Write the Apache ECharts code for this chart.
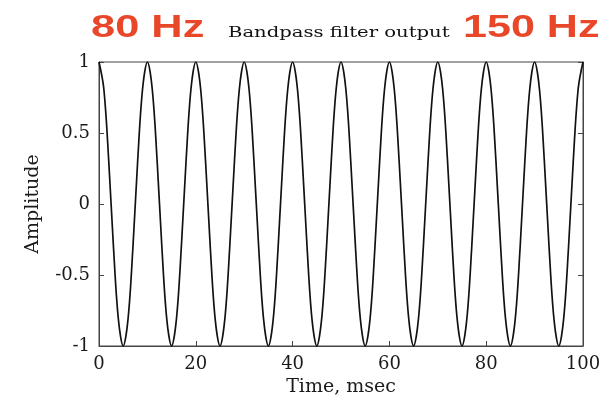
<!DOCTYPE html>
<html>
<head>
<meta charset="utf-8">
<script src="https://cdn.jsdelivr.net/npm/echarts@6/dist/echarts.min.js"></script>
<style>html,body{margin:0;padding:0;background:#fff;}#c{width:604px;height:403px;}</style>
</head>
<body>
<div id="c"></div>
<script>
// Time samples (msec)
var timeMs = [
  0,1,2,3,4,5,6,7,8,9,
  10,11,12,13,14,15,16,17,18,19,
  20,21,22,23,24,25,26,27,28,29,
  30,31,32,33,34,35,36,37,38,39,
  40,41,42,43,44,45,46,47,48,49,
  50,51,52,53,54,55,56,57,58,59,
  60,61,62,63,64,65,66,67,68,69,
  70,71,72,73,74,75,76,77,78,79,
  80,81,82,83,84,85,86,87,88,89,
  90,91,92,93,94,95,96,97,98,99,
  100
];
// Amplitude
var amplitude = [
  1,0.81,0.31,-0.31,-0.81,-1,-0.81,-0.31,0.31,0.81,
  1,0.81,0.31,-0.31,-0.81,-1,-0.81,-0.31,0.31,0.81,
  1,0.81,0.31,-0.31,-0.81,-1,-0.81,-0.31,0.31,0.81,
  1,0.81,0.31,-0.31,-0.81,-1,-0.81,-0.31,0.31,0.81,
  1,0.81,0.31,-0.31,-0.81,-1,-0.81,-0.31,0.31,0.81,
  1,0.81,0.31,-0.31,-0.81,-1,-0.81,-0.31,0.31,0.81,
  1,0.81,0.31,-0.31,-0.81,-1,-0.81,-0.31,0.31,0.81,
  1,0.81,0.31,-0.31,-0.81,-1,-0.81,-0.31,0.31,0.81,
  1,0.81,0.31,-0.31,-0.81,-1,-0.81,-0.31,0.31,0.81,
  1,0.81,0.31,-0.31,-0.81,-1,-0.81,-0.31,0.31,0.81,
  1
];
var xTicks = [0, 20, 40, 60, 80, 100];
var yTicks = [-1, -0.5, 0, 0.5, 1];
var titleText = 'Bandpass filter output';
var leftNote = '80 Hz';
var rightNote = '150 Hz';

var points = timeMs.map(function (t, i) { return [t, amplitude[i]]; });
var serif = '"DejaVu Serif", "Liberation Serif", serif';
var sans = '"Liberation Sans", Arial, sans-serif';
var axisColor = '#444';
var textColor = '#1a1a1a';

var chart = echarts.init(document.getElementById('c'), null, {renderer: 'canvas'});
chart.setOption({
  animation: false,
  backgroundColor: '#fff',
  grid: {left: 99, right: 21, top: 62, bottom: 57, show: true, borderColor: axisColor, borderWidth: 1},
  xAxis: {
    type: 'value', min: xTicks[0], max: xTicks[xTicks.length - 1], interval: 20,
    name: 'Time, msec', nameLocation: 'middle', nameGap: 31,
    nameTextStyle: {fontFamily: serif, fontSize: 19, color: textColor},
    axisLine: {show: true, onZero: false, lineStyle: {color: axisColor}},
    axisTick: {show: true, inside: true, length: 5, lineStyle: {color: axisColor}},
    axisLabel: {fontFamily: serif, fontSize: 18, color: textColor, margin: 9},
    splitLine: {show: false}
  },
  yAxis: [{
    type: 'value', min: yTicks[0], max: yTicks[yTicks.length - 1], interval: 0.5,
    name: 'Amplitude', nameLocation: 'middle', nameGap: 56,
    nameTextStyle: {fontFamily: serif, fontSize: 19, color: textColor},
    axisLine: {show: true, onZero: false, lineStyle: {color: axisColor}},
    axisTick: {show: true, inside: true, length: 5, lineStyle: {color: axisColor}},
    axisLabel: {fontFamily: serif, fontSize: 18, color: textColor, margin: 9},
    splitLine: {show: false}
  }, {
    type: 'value', position: 'right', min: yTicks[0], max: yTicks[yTicks.length - 1], interval: 0.5,
    axisLine: {show: true, onZero: false, lineStyle: {color: axisColor}},
    axisTick: {show: true, inside: true, length: 5, lineStyle: {color: axisColor}},
    axisLabel: {show: false},
    splitLine: {show: false}
  }],
  graphic: [
    {type: 'text', x: 91, y: 13, scaleX: 1.4,
     style: {text: leftNote, fontFamily: sans, fontWeight: 'bold', fontSize: 31, fill: '#e8472a'}},
    {type: 'text', x: 228, y: 26, scaleX: 1.4,
     style: {text: titleText, fontFamily: serif, fontSize: 14, fill: '#111'}},
    {type: 'text', x: 463, y: 13, scaleX: 1.39,
     style: {text: rightNote, fontFamily: sans, fontWeight: 'bold', fontSize: 31, fill: '#e8472a'}}
  ],
  series: [{
    type: 'line', data: points, smooth: 0.35, showSymbol: false,
    lineStyle: {color: '#111', width: 1.7}
  }]
});
</script>
</body>
</html>
